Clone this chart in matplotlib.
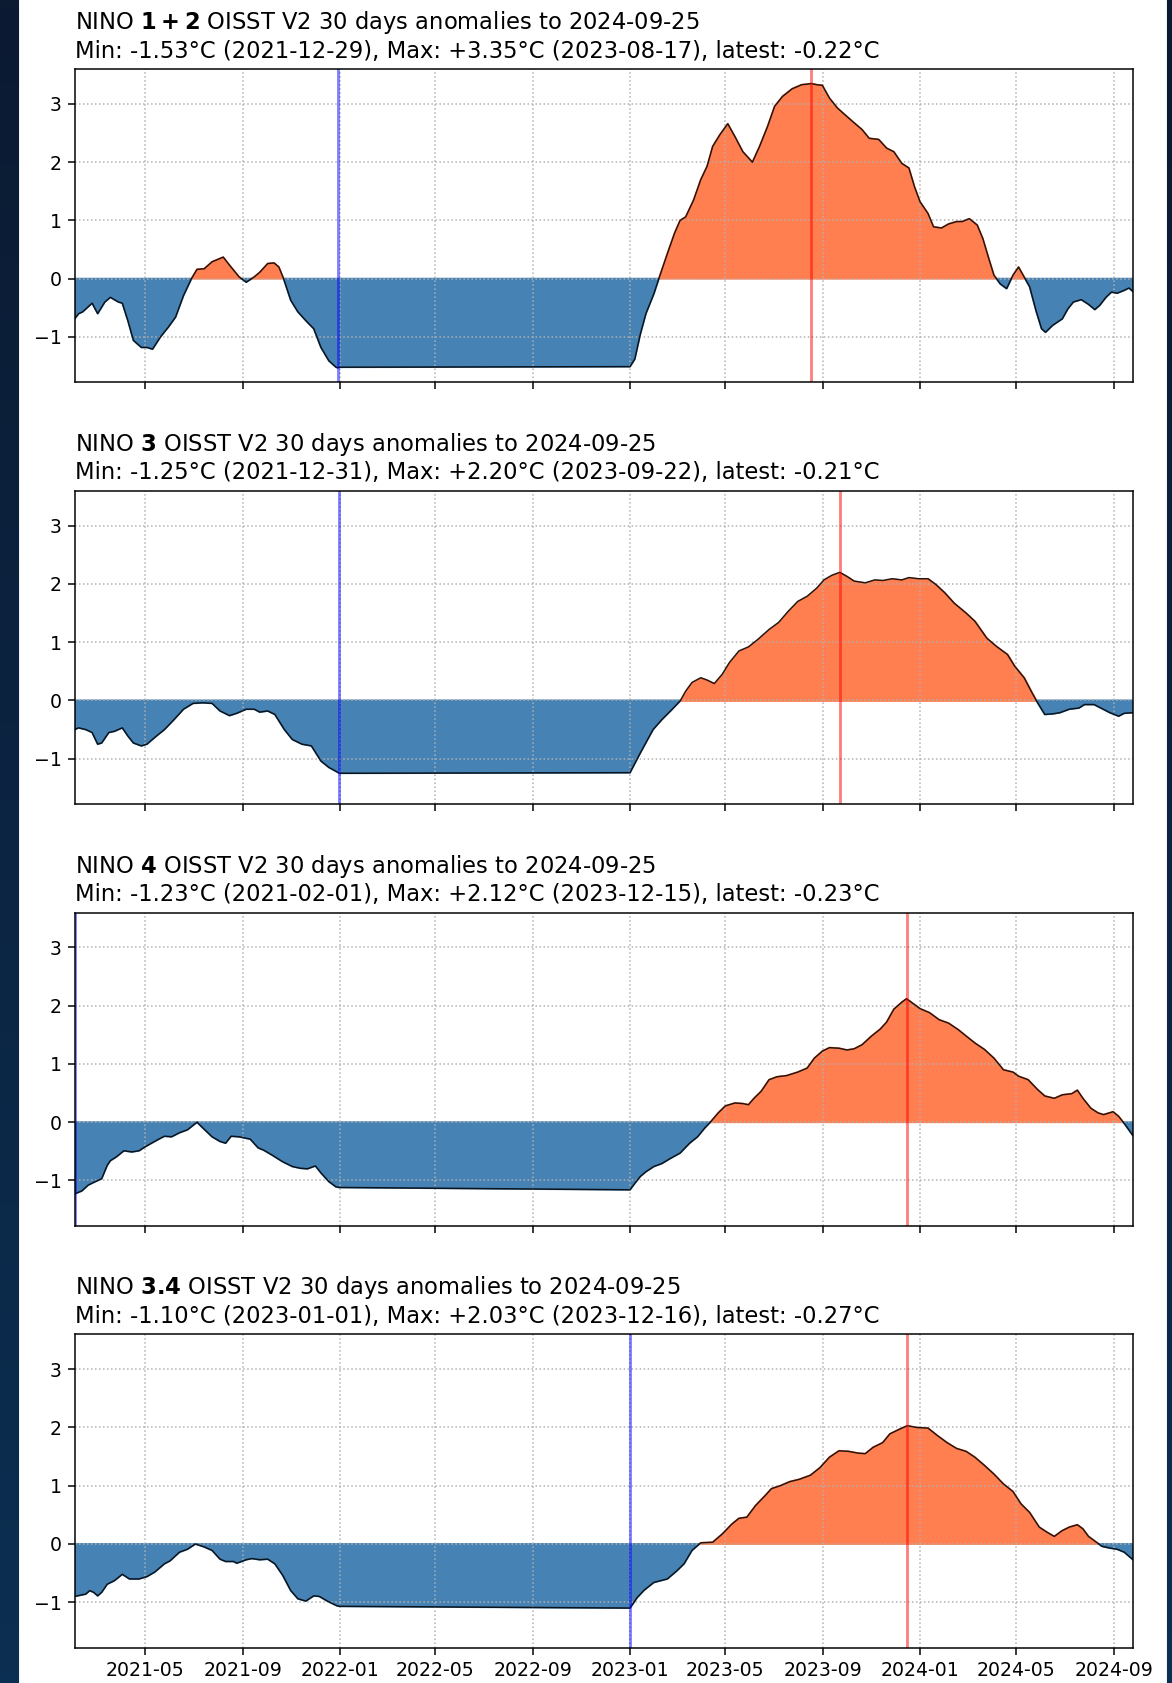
import numpy as np
import pandas as pd
import matplotlib
matplotlib.use('Agg')
import matplotlib.pyplot as plt
import matplotlib.dates as mdates
from matplotlib.patches import Rectangle

# panel stats shown in the titles
regions = ['1+2', '3', '4', '3.4']
min_vals = [-1.53, -1.25, -1.23, -1.10]
min_dates = ['2021-12-29', '2021-12-31', '2021-02-01', '2023-01-01']
max_vals = [3.35, 2.20, 2.12, 2.03]
max_dates = ['2023-08-17', '2023-09-22', '2023-12-15', '2023-12-16']
latest_vals = [-0.22, -0.21, -0.23, -0.27]
end_date = '2024-09-25'

# NINO 1+2
n12_dates = ['2021-02-01', '2021-02-06', '2021-02-11', '2021-02-23', '2021-03-02', '2021-03-11', '2021-03-18',
             '2021-03-28', '2021-04-02', '2021-04-09', '2021-04-16', '2021-04-26', '2021-05-03', '2021-05-10',
             '2021-05-20', '2021-05-30', '2021-06-08', '2021-06-18', '2021-06-28', '2021-07-05', '2021-07-14',
             '2021-07-24', '2021-08-07', '2021-08-15', '2021-08-27', '2021-09-05', '2021-09-15', '2021-09-22',
             '2021-10-02', '2021-10-10', '2021-10-16', '2021-10-22', '2021-10-31', '2021-11-09', '2021-11-19',
             '2021-11-29', '2021-12-08', '2021-12-18', '2021-12-27', '2021-12-29', '2021-12-31',
             '2023-01-01', '2023-01-07', '2023-01-14', '2023-01-21', '2023-01-31', '2023-02-07', '2023-02-17',
             '2023-02-26', '2023-03-05', '2023-03-12', '2023-03-22', '2023-03-31', '2023-04-08', '2023-04-15',
             '2023-04-24', '2023-05-04', '2023-05-13', '2023-05-23', '2023-06-04', '2023-06-13', '2023-06-23',
             '2023-07-02', '2023-07-12', '2023-07-24', '2023-08-05', '2023-08-12', '2023-08-17', '2023-08-24',
             '2023-08-31', '2023-09-09', '2023-09-19', '2023-09-28', '2023-10-08', '2023-10-20', '2023-10-29',
             '2023-11-10', '2023-11-20', '2023-11-29', '2023-12-09', '2023-12-18', '2023-12-25', '2024-01-01',
             '2024-01-11', '2024-01-18', '2024-01-28', '2024-02-06', '2024-02-16', '2024-02-23', '2024-03-03',
             '2024-03-13', '2024-03-20', '2024-03-27', '2024-04-03', '2024-04-11', '2024-04-19', '2024-04-27',
             '2024-05-04', '2024-05-11', '2024-05-18', '2024-05-26', '2024-06-02', '2024-06-07', '2024-06-16',
             '2024-06-28', '2024-07-05', '2024-07-12', '2024-07-22', '2024-07-31', '2024-08-08', '2024-08-14',
             '2024-08-22', '2024-08-29', '2024-09-05', '2024-09-14', '2024-09-20', '2024-09-25']
n12_vals = [-0.69, -0.60, -0.57, -0.42, -0.60, -0.40, -0.32,
            -0.40, -0.42, -0.72, -1.06, -1.18, -1.18, -1.21,
            -1.00, -0.83, -0.66, -0.29, 0.00, 0.16, 0.17,
            0.29, 0.37, 0.23, 0.03, -0.06, 0.03, 0.11,
            0.26, 0.27, 0.20, 0.00, -0.37, -0.57, -0.72,
            -0.86, -1.18, -1.41, -1.52, -1.53, -1.52,
            -1.51, -1.38, -0.95, -0.60, -0.26, 0.03, 0.43,
            0.78, 1.00, 1.06, 1.35, 1.70, 1.93, 2.27,
            2.47, 2.66, 2.44, 2.18, 2.00, 2.27, 2.61,
            2.96, 3.13, 3.26, 3.33, 3.34, 3.35, 3.33,
            3.32, 3.10, 2.93, 2.82, 2.70, 2.56, 2.41,
            2.39, 2.24, 2.18, 1.98, 1.90, 1.58, 1.32,
            1.12, 0.89, 0.87, 0.94, 0.98, 0.98, 1.03,
            0.92, 0.69, 0.37, 0.06, -0.09, -0.17, 0.06,
            0.20, 0.03, -0.14, -0.55, -0.86, -0.92, -0.80,
            -0.69, -0.52, -0.40, -0.36, -0.44, -0.53, -0.46,
            -0.32, -0.23, -0.25, -0.20, -0.16, -0.22]

# NINO 3
n3_dates = ['2021-02-01', '2021-02-06', '2021-02-15', '2021-02-23', '2021-03-02', '2021-03-07', '2021-03-16',
            '2021-03-23', '2021-04-02', '2021-04-09', '2021-04-16', '2021-04-26', '2021-05-03', '2021-05-15',
            '2021-05-25', '2021-06-06', '2021-06-18', '2021-06-30', '2021-07-12', '2021-07-24', '2021-08-03',
            '2021-08-15', '2021-08-24', '2021-09-05', '2021-09-15', '2021-09-22', '2021-10-02', '2021-10-11',
            '2021-10-23', '2021-11-02', '2021-11-14', '2021-11-26', '2021-12-08', '2021-12-18', '2021-12-30',
            '2021-12-31',
            '2023-01-01', '2023-01-14', '2023-01-30', '2023-02-10', '2023-02-21', '2023-03-05', '2023-03-12',
            '2023-03-20', '2023-03-31', '2023-04-08', '2023-04-17', '2023-04-27', '2023-05-06', '2023-05-18',
            '2023-05-30', '2023-06-11', '2023-06-25', '2023-07-07', '2023-07-19', '2023-07-31', '2023-08-12',
            '2023-08-24', '2023-09-02', '2023-09-12', '2023-09-22', '2023-10-01', '2023-10-10', '2023-10-24',
            '2023-11-05', '2023-11-15', '2023-11-27', '2023-12-09', '2023-12-18', '2023-12-30', '2024-01-11',
            '2024-01-21', '2024-02-01', '2024-02-13', '2024-02-28', '2024-03-10', '2024-03-25', '2024-04-06',
            '2024-04-20', '2024-04-29', '2024-05-11', '2024-05-21', '2024-05-28', '2024-06-06', '2024-06-16',
            '2024-06-25', '2024-07-07', '2024-07-19', '2024-07-26', '2024-08-07', '2024-08-17', '2024-08-27',
            '2024-09-07', '2024-09-14', '2024-09-25']
n3_vals = [-0.50, -0.47, -0.50, -0.55, -0.75, -0.73, -0.55,
           -0.53, -0.47, -0.61, -0.73, -0.78, -0.75, -0.61,
           -0.50, -0.33, -0.15, -0.05, -0.04, -0.05, -0.18,
           -0.26, -0.22, -0.15, -0.15, -0.20, -0.18, -0.24,
           -0.50, -0.67, -0.75, -0.78, -1.04, -1.15, -1.24,
           -1.25,
           -1.24, -0.90, -0.50, -0.33, -0.18, -0.01, 0.16,
           0.31, 0.39, 0.35, 0.29, 0.45, 0.65, 0.85,
           0.92, 1.05, 1.22, 1.34, 1.53, 1.70, 1.79,
           1.93, 2.07, 2.15, 2.20, 2.13, 2.05, 2.02,
           2.07, 2.06, 2.09, 2.07, 2.11, 2.09, 2.09,
           1.99, 1.85, 1.67, 1.50, 1.36, 1.07, 0.93,
           0.79, 0.59, 0.39, 0.13, -0.04, -0.24, -0.23,
           -0.21, -0.15, -0.13, -0.07, -0.07, -0.14, -0.21,
           -0.27, -0.22, -0.21]

# NINO 4
n4_dates = ['2021-02-01', '2021-02-10', '2021-02-18', '2021-02-27', '2021-03-07', '2021-03-14', '2021-03-18',
            '2021-03-26', '2021-04-04', '2021-04-14', '2021-04-23', '2021-05-01', '2021-05-10', '2021-05-18',
            '2021-05-25', '2021-06-03', '2021-06-13', '2021-06-23', '2021-07-05', '2021-07-14', '2021-07-24',
            '2021-08-03', '2021-08-10', '2021-08-17', '2021-08-27', '2021-09-10', '2021-09-20', '2021-09-27',
            '2021-10-07', '2021-10-21', '2021-11-02', '2021-11-12', '2021-11-21', '2021-12-01', '2021-12-08',
            '2021-12-18', '2021-12-27', '2021-12-31',
            '2023-01-01', '2023-01-07', '2023-01-14', '2023-01-21', '2023-01-31', '2023-02-10', '2023-02-21',
            '2023-03-05', '2023-03-17', '2023-03-27', '2023-04-05', '2023-04-12', '2023-04-22', '2023-05-01',
            '2023-05-13', '2023-05-23', '2023-05-30', '2023-06-06', '2023-06-15', '2023-06-25', '2023-07-05',
            '2023-07-17', '2023-07-31', '2023-08-12', '2023-08-21', '2023-08-31', '2023-09-09', '2023-09-21',
            '2023-10-01', '2023-10-10', '2023-10-20', '2023-11-01', '2023-11-12', '2023-11-20', '2023-11-29',
            '2023-12-09', '2023-12-15', '2023-12-23', '2024-01-01', '2024-01-13', '2024-01-25', '2024-02-06',
            '2024-02-18', '2024-02-28', '2024-03-10', '2024-03-22', '2024-04-03', '2024-04-15', '2024-04-27',
            '2024-05-04', '2024-05-16', '2024-05-28', '2024-06-06', '2024-06-18', '2024-06-28', '2024-07-10',
            '2024-07-17', '2024-07-24', '2024-08-03', '2024-08-12', '2024-08-19', '2024-08-31', '2024-09-07',
            '2024-09-14', '2024-09-25']
n4_vals = [-1.23, -1.18, -1.08, -1.02, -0.97, -0.74, -0.66,
           -0.59, -0.49, -0.51, -0.49, -0.42, -0.35, -0.29,
           -0.24, -0.25, -0.18, -0.13, 0.00, -0.12, -0.25,
           -0.33, -0.36, -0.24, -0.25, -0.29, -0.44, -0.48,
           -0.56, -0.68, -0.76, -0.79, -0.80, -0.75, -0.87,
           -1.02, -1.11, -1.12,
           -1.16, -1.05, -0.93, -0.85, -0.76, -0.71, -0.62,
           -0.53, -0.36, -0.25, -0.10, 0.00, 0.16, 0.28,
           0.33, 0.32, 0.30, 0.41, 0.53, 0.73, 0.78,
           0.80, 0.86, 0.93, 1.10, 1.22, 1.28, 1.27,
           1.24, 1.26, 1.33, 1.48, 1.60, 1.72, 1.94,
           2.06, 2.12, 2.04, 1.95, 1.88, 1.76, 1.70,
           1.59, 1.48, 1.36, 1.25, 1.10, 0.90, 0.86,
           0.79, 0.73, 0.56, 0.45, 0.41, 0.47, 0.49,
           0.55, 0.41, 0.24, 0.16, 0.13, 0.18, 0.10,
           -0.02, -0.23]

# NINO 3.4
n34_dates = ['2021-02-01', '2021-02-08', '2021-02-15', '2021-02-20', '2021-02-25', '2021-03-02', '2021-03-07',
             '2021-03-14', '2021-03-23', '2021-04-02', '2021-04-11', '2021-04-23', '2021-05-03', '2021-05-13',
             '2021-05-25', '2021-06-01', '2021-06-13', '2021-06-23', '2021-07-03', '2021-07-14', '2021-07-24',
             '2021-08-03', '2021-08-10', '2021-08-20', '2021-08-24', '2021-09-05', '2021-09-12', '2021-09-22',
             '2021-10-02', '2021-10-11', '2021-10-21', '2021-10-31', '2021-11-09', '2021-11-19', '2021-11-29',
             '2021-12-06', '2021-12-16', '2021-12-28', '2021-12-31',
             '2023-01-01', '2023-01-10', '2023-01-19', '2023-01-31', '2023-02-17', '2023-03-01', '2023-03-10',
             '2023-03-20', '2023-03-31', '2023-04-15', '2023-04-27', '2023-05-09', '2023-05-18', '2023-05-28',
             '2023-06-08', '2023-06-20', '2023-06-28', '2023-07-09', '2023-07-21', '2023-08-02', '2023-08-16',
             '2023-08-28', '2023-09-09', '2023-09-21', '2023-10-03', '2023-10-15', '2023-10-24', '2023-11-03',
             '2023-11-15', '2023-11-24', '2023-12-06', '2023-12-16', '2023-12-28', '2024-01-11', '2024-01-23',
             '2024-02-04', '2024-02-16', '2024-02-28', '2024-03-10', '2024-03-22', '2024-04-03', '2024-04-15',
             '2024-04-27', '2024-05-07', '2024-05-18', '2024-05-30', '2024-06-09', '2024-06-18', '2024-06-28',
             '2024-07-07', '2024-07-17', '2024-07-24', '2024-07-31', '2024-08-10', '2024-08-17', '2024-08-27',
             '2024-09-05', '2024-09-14', '2024-09-25']
n34_vals = [-0.90, -0.88, -0.86, -0.80, -0.83, -0.89, -0.83,
            -0.69, -0.63, -0.52, -0.60, -0.60, -0.56, -0.48,
            -0.34, -0.29, -0.14, -0.09, 0.00, -0.05, -0.11,
            -0.26, -0.30, -0.30, -0.33, -0.27, -0.25, -0.27,
            -0.26, -0.34, -0.54, -0.80, -0.94, -0.98, -0.89,
            -0.90, -0.98, -1.06, -1.07,
            -1.10, -0.92, -0.79, -0.66, -0.60, -0.46, -0.34,
            -0.11, 0.02, 0.03, 0.17, 0.34, 0.44, 0.46,
            0.66, 0.83, 0.95, 1.00, 1.07, 1.11, 1.18,
            1.31, 1.49, 1.60, 1.59, 1.56, 1.55, 1.66,
            1.74, 1.89, 1.97, 2.03, 2.00, 1.99, 1.86,
            1.74, 1.64, 1.59, 1.49, 1.35, 1.20, 1.03,
            0.90, 0.69, 0.54, 0.29, 0.20, 0.13, 0.23,
            0.29, 0.33, 0.26, 0.13, 0.03, -0.04, -0.07,
            -0.09, -0.14, -0.27]

series = [(n12_dates, n12_vals), (n3_dates, n3_vals), (n4_dates, n4_vals), (n34_dates, n34_vals)]

W, H, DPI = 1172, 1683, 136
fig = plt.figure(figsize=(W / DPI, H / DPI), dpi=DPI)

# dark page background around the white figure area
bg = fig.add_axes([0, 0, 1, 1], zorder=-10)
grad = np.linspace(0, 1, 256).reshape(-1, 1)
top_c = np.array([12, 26, 50]) / 255.0
bot_c = np.array([11, 47, 82]) / 255.0
img = top_c[None, None, :] * (1 - grad[:, :, None]) + bot_c[None, None, :] * grad[:, :, None]
bg.imshow(img, aspect='auto', extent=[0, 1, 0, 1], origin='upper')
bg.add_patch(Rectangle((20 / W, 0), (1166 - 20) / W, 1, color='white', zorder=2))
bg.set_xlim(0, 1)
bg.set_ylim(0, 1)
bg.axis('off')

axes = fig.subplots(4, 1, sharex=True, sharey=True)
fig.subplots_adjust(left=0.0637, right=0.9667, top=0.959, bottom=0.021, hspace=0.346)

ymin = min(min_vals) - 0.25
ymax = max(max_vals) + 0.25
start = pd.Timestamp(n12_dates[0])
stop = pd.Timestamp(end_date)

for i, ax in enumerate(axes):
    d = pd.to_datetime(series[i][0])
    v = np.array(series[i][1])
    ax.fill_between(d, v, 0, where=v >= 0, interpolate=True, color='coral')
    ax.fill_between(d, v, 0, where=v <= 0, interpolate=True, color='steelblue')
    ax.plot(d, v, color='k', lw=0.8, alpha=0.85)
    ax.axvline(pd.Timestamp(min_dates[i]), color='blue', alpha=0.5)
    ax.axvline(pd.Timestamp(max_dates[i]), color='red', alpha=0.5)
    ax.grid(True, linestyle=':')
    title = ('NINO $\\bf{%s}$ OISST V2 30 days anomalies to %s\n'
             'Min: %.2f°C (%s), Max: %+.2f°C (%s), latest: %.2f°C'
             % (regions[i], end_date, min_vals[i], min_dates[i], max_vals[i], max_dates[i], latest_vals[i]))
    ax.set_title(title, loc='left')

axes[0].set_ylim(ymin, ymax)
axes[0].set_yticks([-1, 0, 1, 2, 3])
axes[0].set_xlim(start, stop)
axes[-1].xaxis.set_major_locator(mdates.MonthLocator(bymonth=[1, 5, 9]))
axes[-1].xaxis.set_major_formatter(mdates.DateFormatter('%Y-%m'))

fig.savefig('out.png', dpi=DPI)
